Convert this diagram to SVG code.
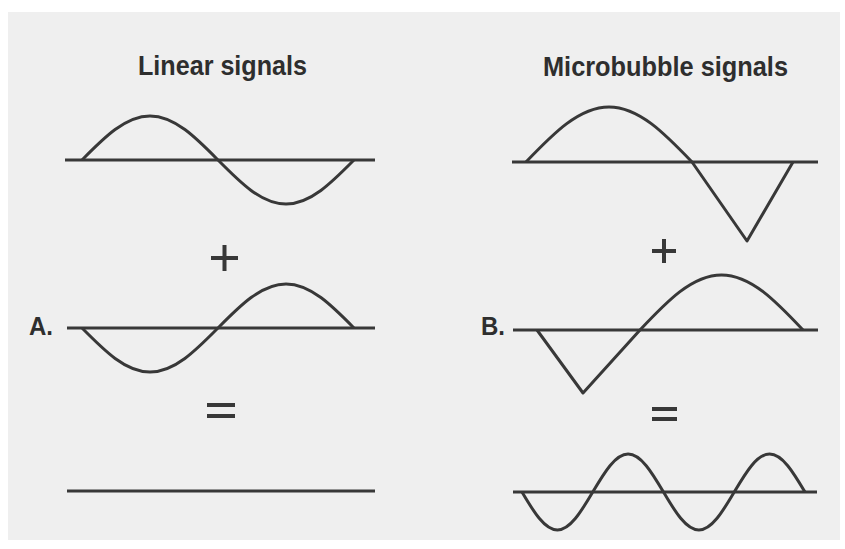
<svg xmlns="http://www.w3.org/2000/svg" width="845" height="549" viewBox="0 0 845 549">
  <style>
    .ln { fill: none; stroke: #383838; stroke-width: 3; stroke-linecap: butt; stroke-linejoin: round; }
    .op { fill: none; stroke: #383838; stroke-width: 4; }
    .title { font-family: "Liberation Sans", Arial, sans-serif; font-weight: bold; font-size: 28px; fill: #2e2e2e; }
    .lbl { font-family: "Liberation Sans", Arial, sans-serif; font-weight: bold; font-size: 25px; fill: #2e2e2e; }
  </style>
  <rect x="0" y="0" width="845" height="549" fill="#ffffff"/>
  <rect x="8" y="12" width="832" height="528" fill="#efefef"/>

  <g id="title-linear">
    <text class="title" x="138" y="75" textLength="169" lengthAdjust="spacingAndGlyphs">Linear signals</text>
  </g>
  <g id="title-microbubble">
    <text class="title" x="543" y="76" textLength="245" lengthAdjust="spacingAndGlyphs">Microbubble signals</text>
  </g>

  <g id="linear-wave-1">
    <line class="ln" x1="65" y1="160" x2="375" y2="160"/>
    <path class="ln" d="M82,160 C104.2,137.5 125.4,116 150,116 C174.6,116 195.8,137.5 218,160 C240.2,182.5 261.4,204 286,204 C310.6,204 331.8,182.5 354,160"/>
  </g>
  <g id="linear-plus">
    <path class="op" d="M211,258 H238 M224.5,245 V271"/>
  </g>
  <g id="linear-wave-2">
    <text class="lbl" x="29" y="335" textLength="24" lengthAdjust="spacingAndGlyphs">A.</text>
    <line class="ln" x1="67" y1="328" x2="375" y2="328"/>
    <path class="ln" d="M82,328 C104.2,350.5 125.4,372 150,372 C174.6,372 195.8,350.5 218,328 C240.2,305.5 261.4,284 286,284 C310.6,284 331.8,305.5 354,328"/>
  </g>
  <g id="linear-equals">
    <path class="op" d="M207,405 H235 M207,416 H235"/>
  </g>
  <g id="linear-result">
    <line class="ln" x1="67" y1="491" x2="375" y2="491"/>
  </g>

  <g id="bubble-wave-1">
    <line class="ln" x1="512" y1="162" x2="818" y2="162"/>
    <path class="ln" d="M526,162 C553.1,133.8 579,107 609,107 C639,107 664.9,133.8 692,162 L747,241 L793,162"/>
  </g>
  <g id="bubble-plus">
    <path class="op" d="M652,251 H676 M664,239 V263"/>
  </g>
  <g id="bubble-wave-2">
    <text class="lbl" x="481" y="335" textLength="24" lengthAdjust="spacingAndGlyphs">B.</text>
    <line class="ln" x1="513" y1="330" x2="818" y2="330"/>
    <path class="ln" d="M537,330 L583,393 L640,330 C666.6,301.8 692,275 721.5,275 C751,275 776.4,301.8 803,330"/>
  </g>
  <g id="bubble-equals">
    <path class="op" d="M652,409 H677 M652,419 H677"/>
  </g>
  <g id="bubble-result">
    <line class="ln" x1="513" y1="492" x2="817" y2="492"/>
    <path class="ln" d="M522,492 C533.5,511.5 544.6,530 557.4,530 C570.2,530 581.2,511.5 592.75,492 C604.3,472.5 615.4,454 628.1,454 C640.9,454 651.9,472.5 663.5,492 C675,511.5 686.1,530 698.9,530 C711.7,530 722.7,511.5 734.25,492 C745.8,472.5 756.9,454 769.6,454 C782.4,454 793.4,472.5 805,492"/>
  </g>
</svg>
